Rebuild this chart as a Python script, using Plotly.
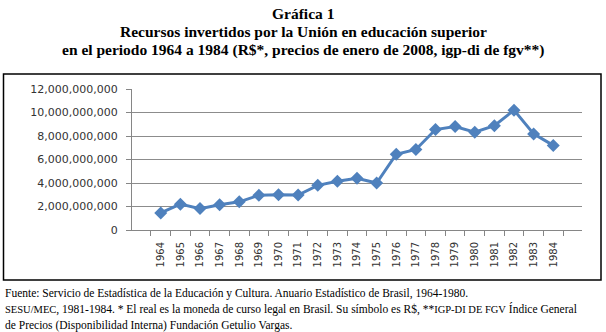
import plotly.graph_objects as go

years = [str(y) for y in range(1964, 1985)]
values = [1.45e9, 2.2e9, 1.82e9, 2.15e9, 2.4e9, 2.95e9, 3.0e9, 2.97e9, 3.8e9, 4.15e9,
          4.4e9, 4.0e9, 6.45e9, 6.85e9, 8.55e9, 8.8e9, 8.32e9, 8.88e9, 10.2e9, 8.18e9, 7.2e9]
y_ticks = [0, 2e9, 4e9, 6e9, 8e9, 10e9, 12e9]
y_tick_text = ["0", "2,000,000,000", "4,000,000,000", "6,000,000,000", "8,000,000,000",
               "10,000,000,000", "12,000,000,000"]

W, H = 606, 332
L, R, T, B = 132, 582, 89, 230

def px(x):
    return (x - L) / (R - L)

def py(y):
    return (B - y) / (B - T)

fig = go.Figure()
fig.add_trace(go.Scatter(
    x=years, y=values, mode="lines+markers",
    line=dict(color="#4F81BD", width=3),
    marker=dict(symbol="diamond", size=10, color="#4F81BD"),
    showlegend=False,
))

fig.update_layout(
    width=W, height=H,
    margin=dict(l=L, r=W - R, t=T, b=H - B, pad=0),
    paper_bgcolor="white", plot_bgcolor="white",
    font=dict(family="DejaVu Sans", size=11, color="#333"),
    xaxis=dict(
        type="category", tickangle=-90, ticks="outside", tickson="boundaries",
        ticklen=5, tickcolor="#868686", showline=True, linecolor="#868686",
        showgrid=False, ticklabelstandoff=7,
        tickfont=dict(size=10, family="DejaVu Sans", color="#333"),
    ),
    yaxis=dict(
        range=[0, 12e9], tickvals=y_ticks, ticktext=y_tick_text,
        ticks="outside", ticklen=5, tickcolor="#868686",
        showline=True, linecolor="#868686", showgrid=True, gridcolor="#8c8c8c",
        gridwidth=1, zeroline=False, ticklabelstandoff=6,
        tickfont=dict(size=11, family="DejaVu Sans", color="#333"),
    ),
)

# Outer chart box
fig.add_shape(type="rect", xref="paper", yref="paper",
              x0=px(3.5), x1=px(601), y0=py(280), y1=py(74),
              line=dict(color="black", width=1.5), fillcolor="rgba(0,0,0,0)", layer="below")

title_lines = [
    "Gráfica 1",
    "Recursos invertidos por la Unión en educación superior",
    "en el periodo 1964 a 1984 (R$*, precios de enero de 2008, igp-di de fgv**)",
]
for i, (txt, yy) in enumerate(zip(title_lines, [13, 31, 50])):
    fig.add_annotation(text="<b>" + txt + "</b>", xref="paper", yref="paper",
                       x=px(303), y=py(yy), xanchor="center", yanchor="middle",
                       showarrow=False,
                       font=dict(family="Liberation Serif", size=15.5, color="black"))

foot_lines = [
    "Fuente: Servicio de Estadística de la Educación y Cultura. Anuario Estadístico de Brasil, 1964-1980.",
    "<span style='font-size:10.5px'>SESU/MEC</span>, 1981-1984. * El real es la moneda de curso legal en Brasil. Su símbolo es R$, **<span style='font-size:10.5px'>IGP-DI DE FGV</span> Índice General",
    "de Precios (Disponibilidad Interna) Fundación Getulio Vargas.",
]
for txt, yy in zip(foot_lines, [293, 309, 325]):
    fig.add_annotation(text=txt, xref="paper", yref="paper",
                       x=px(3), y=py(yy), xanchor="left", yanchor="middle",
                       showarrow=False,
                       font=dict(family="Liberation Serif", size=11.5, color="black"))

fig.write_html("out.html", config={"displayModeBar": False},
               post_script="document.body.style.margin='0';document.body.style.overflow='hidden';")
